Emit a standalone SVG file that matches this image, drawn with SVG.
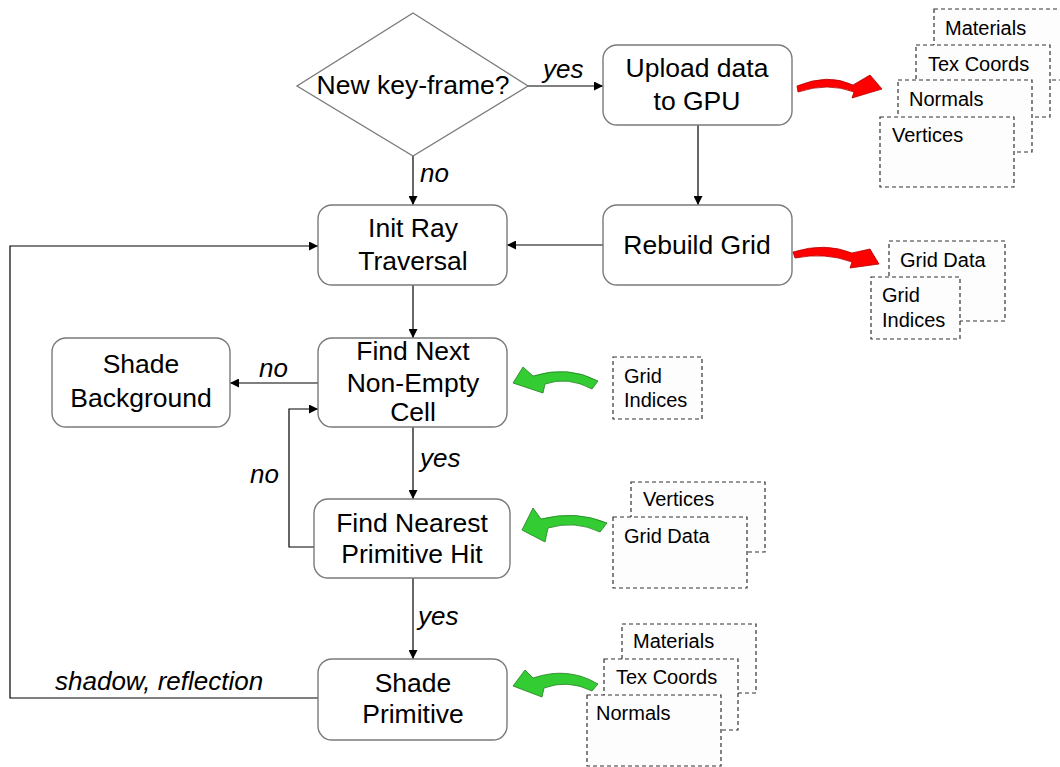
<svg xmlns="http://www.w3.org/2000/svg" width="1060" height="767" viewBox="0 0 1060 767">
<defs>
<marker id="ah" viewBox="0 0 10 10" refX="10" refY="5" markerWidth="9" markerHeight="9" markerUnits="userSpaceOnUse" orient="auto">
<path d="M0,0 L10,5 L0,10 Z" fill="#000"/>
</marker>
<style>
text{font-family:"Liberation Sans",Arial,sans-serif;fill:#000}
.n{font-size:26.5px;text-anchor:middle}
.l{font-size:26px;font-style:italic}
.d{font-size:20px}
.box{fill:#fff;stroke:#7a7a7a;stroke-width:1.4}
.dash{fill:#fdfdfd;stroke:#333;stroke-width:1.2;stroke-dasharray:4 3}
.c{fill:none;stroke:#000;stroke-width:1.2}
.red{fill:#ff0000;stroke:#b00000;stroke-width:0.8}
.grn{fill:#33cc33;stroke:#1f7f1f;stroke-width:0.8}
</style>
</defs>
<rect width="1060" height="767" fill="#fff"/>

<g id="connectors">
<path class="c" d="M528,86 L603,86" marker-end="url(#ah)"/>
<path class="c" d="M413,156 L413,205" marker-end="url(#ah)"/>
<path class="c" d="M698,125 L698,205" marker-end="url(#ah)"/>
<path class="c" d="M603,245 L507,245" marker-end="url(#ah)"/>
<path class="c" d="M413,285 L413,338" marker-end="url(#ah)"/>
<path class="c" d="M318,383 L230,383" marker-end="url(#ah)"/>
<path class="c" d="M413,427 L413,499" marker-end="url(#ah)"/>
<path class="c" d="M314,547 L289,547 L289,409 L318,409" marker-end="url(#ah)"/>
<path class="c" d="M413,578 L413,659" marker-end="url(#ah)"/>
<path class="c" d="M318,698 L10,698 L10,246 L318,246" marker-end="url(#ah)"/>
<text class="l" x="543" y="78">yes</text>
<text class="l" x="420" y="182">no</text>
<text class="l" x="259" y="377">no</text>
<text class="l" x="420" y="467">yes</text>
<text class="l" x="250" y="483">no</text>
<text class="l" x="418" y="625">yes</text>
<text class="l" x="55" y="690">shadow, reflection</text>
</g>

<g id="keyframe">
<polygon points="413,13 528,86 413,156 297,86" fill="#fff" stroke="#7a7a7a" stroke-width="1.3"/>
<text class="n" x="413" y="94">New key-frame?</text>
</g>
<g id="upload">
<rect class="box" x="603" y="45" width="189" height="80" rx="14"/>
<text class="n" x="697" y="77">Upload data</text>
<text class="n" x="697" y="110">to GPU</text>
</g>
<g id="rebuild">
<rect class="box" x="603" y="205" width="189" height="80" rx="14"/>
<text class="n" x="697" y="254">Rebuild Grid</text>
</g>
<g id="initray">
<rect class="box" x="318" y="205" width="189" height="80" rx="14"/>
<text class="n" x="413" y="237">Init Ray</text>
<text class="n" x="413" y="270">Traversal</text>
</g>
<g id="findnext">
<rect class="box" x="318" y="338" width="189" height="89" rx="14"/>
<text class="n" x="413" y="360">Find Next</text>
<text class="n" x="413" y="392">Non-Empty</text>
<text class="n" x="413" y="421">Cell</text>
</g>
<g id="shadebg">
<rect class="box" x="52" y="338" width="178" height="89" rx="14"/>
<text class="n" x="141" y="373">Shade</text>
<text class="n" x="141" y="407">Background</text>
</g>
<g id="findnearest">
<rect class="box" x="314" y="499" width="196" height="79" rx="14"/>
<text class="n" x="412" y="532">Find Nearest</text>
<text class="n" x="412" y="563">Primitive Hit</text>
</g>
<g id="shadeprim">
<rect class="box" x="318" y="659" width="189" height="81" rx="14"/>
<text class="n" x="413" y="692">Shade</text>
<text class="n" x="413" y="723">Primitive</text>
</g>

<g id="gpu-data">
<rect class="dash" x="934" y="9" width="134" height="71"/>
<text class="d" x="945" y="35">Materials</text>
<rect class="dash" x="916" y="45" width="134" height="72"/>
<text class="d" x="928" y="71">Tex Coords</text>
<rect class="dash" x="898" y="80" width="134" height="72"/>
<text class="d" x="909" y="106">Normals</text>
<rect class="dash" x="880" y="117" width="134" height="70"/>
<text class="d" x="892" y="142">Vertices</text>
</g>
<g id="grid-data">
<rect class="dash" x="889" y="241" width="116" height="80"/>
<text class="d" x="900" y="267">Grid Data</text>
<rect class="dash" x="871" y="277" width="89" height="62"/>
<text class="d" x="882" y="302">Grid</text>
<text class="d" x="882" y="327">Indices</text>
</g>
<g id="grid-indices">
<rect class="dash" x="613" y="357" width="89" height="62"/>
<text class="d" x="624" y="383">Grid</text>
<text class="d" x="624" y="407">Indices</text>
</g>
<g id="nearest-data">
<rect class="dash" x="631" y="482" width="134" height="70"/>
<text class="d" x="643" y="506">Vertices</text>
<rect class="dash" x="613" y="517" width="134" height="71"/>
<text class="d" x="624" y="543">Grid Data</text>
</g>
<g id="shade-data">
<rect class="dash" x="622" y="624" width="134" height="69"/>
<text class="d" x="633" y="648">Materials</text>
<rect class="dash" x="604" y="659" width="134" height="71"/>
<text class="d" x="616" y="684">Tex Coords</text>
<rect class="dash" x="587" y="695" width="134" height="71"/>
<text class="d" x="596" y="720">Normals</text>
</g>

<g id="arrows">
<path class="red" d="M797,86 Q828,73 853,85 L870,75 L882,89 L852,98 L854,92 Q828,82 798,92 Z"/>
<path class="red" d="M793,252 Q825,242 852,253 L870,249 L879,264 L850,268 L852,262 Q825,252 795,258 Z"/>
<path class="grn" d="M513,383 L523,367 L533,376 Q568,365 598,381 L592,389 Q568,376 545,384 L543,393 Z"/>
<path class="grn" d="M522,530 L533,508 L541,519 Q576,510 607,523 L600,532 Q575,520 548,528 L545,542 Z"/>
<path class="grn" d="M513,686 L525,670 L533,678 Q568,666 598,684 L592,691 Q568,679 544,688 L542,697 Z"/>
</g>
</svg>
